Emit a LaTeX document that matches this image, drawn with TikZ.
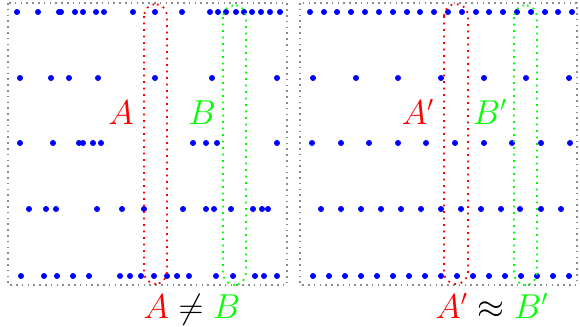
\documentclass[tikz,border=0pt]{standalone}
\usepackage{amsmath}
\usetikzlibrary{positioning}
\tikzset{
  frame/.style={draw=gray!90, line width=0.8pt, dash pattern=on 0.8pt off 2.1pt},
  window/.style={line width=0.9pt, dash pattern=on 0.9pt off 2.35pt, rounded corners=6pt},
  lab/.style={anchor=base, font=\fontsize{16}{19}\selectfont},
}
\begin{document}
\begin{tikzpicture}[x=0.5pt, y=-0.5pt]
    \useasboundingbox (0,0) rectangle (580,327);
    \def\rDot{1.5pt}

    % 1: y of the row
    % 2: list of x values
    \newcommand{\DotRow}[2]{
        \foreach \xi in {#2}{
            \fill [blue] (\xi,#1) circle (\rDot);
        }
    }

    % Left frame, irregular rows
    \draw [frame] (8,3) rectangle (287,285);
    \DotRow{12}{17,38,59,61,75,83,96,104,133,155,182,210,218,226,236,244,252,261,270,280}
    \DotRow{78}{20,51,69,98,155,212,277}
    \DotRow{143}{20,53,79,83,93,101,193,206,217,277}
    \DotRow{209}{29,46,56,97,122,144,183,206,214,231,253,262,268}
    \DotRow{276}{21,44,57,73,89,120,130,141,154,167,177,189,216,233,255,264,277}

    % Right frame, regular rows
    \draw [frame] (300,3) rectangle (577,285);
    \DotRow{12}{310,324,337,351,365,379,393,407,420,434,448,462,476,489,503,517,531,545,558,572}
    \DotRow{78}{313,356,398,441,484,526,569}
    \DotRow{143}{312,341,369,398,426,455,484,512,541,570}
    \DotRow{209}{321,341,361,381,401,421,441,461,481,501,520,541,561}
    \DotRow{276}{313,329,345,361,377,393,409,425,441,457,473,489,505,521,537,553,569}

    % Windows
    \draw [window, red] (144,4) rectangle (167,284);
    \draw [window, green] (223,5) rectangle (246,285);
    \draw [window, red] (444,4) rectangle (468,284);
    \draw [window, green] (514,5) rectangle (537,285);

    % Labels
    \node [lab, text=red] (labA) at (121,124) {$A$};
    \node [lab, text=green] (labB) at (202,124) {$B$};
    \node [lab, text=red] (labAp) at (418,124) {$A'$};
    \node [lab, text=green] (labBp) at (490,124) {$B'$};

    \node [lab] (neq) at (192,318) {$\color{red}A\color{black} \neq \color{green}B$};
    \node [lab] (approx) at (492,318) {$\color{red}A'\color{black} \approx \color{green}B'$};

\end{tikzpicture}
\end{document}
